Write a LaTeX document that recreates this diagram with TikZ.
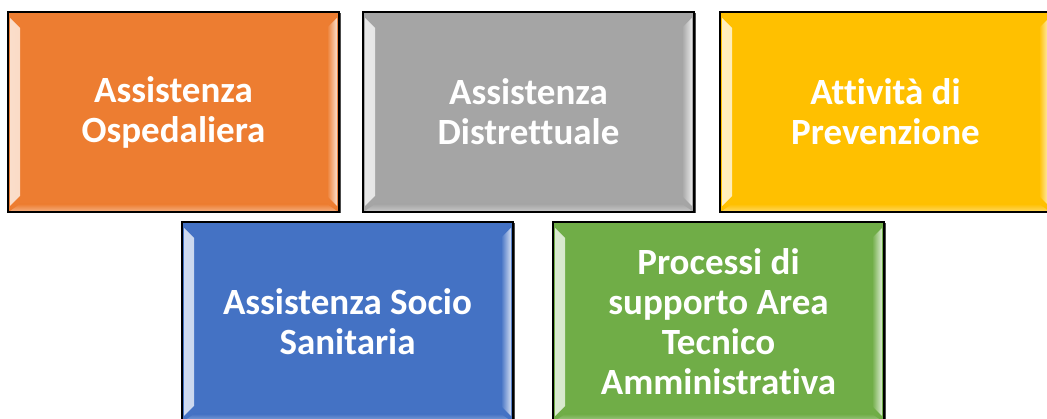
\documentclass[tikz,border=0pt]{standalone}
\usepackage{fontspec}
\setmainfont{Carlito}[Ligatures=NoCommon]
\usetikzlibrary{shadows}
\definecolor{aoOrange}{HTML}{ED7D31}
\definecolor{adGray}{HTML}{A5A5A5}
\definecolor{apYellow}{HTML}{FFC000}
\definecolor{assBlue}{HTML}{4472C4}
\definecolor{ptaGreen}{HTML}{70AD47}
\tikzset{
  tile/.style={draw=black, line width=1.4pt, fill=#1,
    minimum width=331pt, minimum height=200pt, inner sep=0pt,
    text=white, align=center, font=\bfseries\fontsize{37}{40}\selectfont,
    drop shadow={shadow xshift=1.5pt, shadow yshift=-1.5pt, opacity=.7, fill=black},
    path picture={
      \fill[left color=#1!25!white, right color=#1]
        ([shift={(2pt,-6pt)}]path picture bounding box.north west) --
        ([shift={(12pt,-16pt)}]path picture bounding box.north west) --
        ([shift={(12pt,16pt)}]path picture bounding box.south west) --
        ([shift={(2pt,6pt)}]path picture bounding box.south west) -- cycle;
      \fill[right color=#1!25!white, left color=#1]
        ([shift={(-2pt,-6pt)}]path picture bounding box.north east) --
        ([shift={(-12pt,-16pt)}]path picture bounding box.north east) --
        ([shift={(-12pt,16pt)}]path picture bounding box.south east) --
        ([shift={(-2pt,6pt)}]path picture bounding box.south east) -- cycle;
      % soft light edge along the bottom
      \fill[top color=#1, bottom color=#1!65!white]
        ([shift={(12pt,8pt)}]path picture bounding box.south west) --
        ([shift={(-12pt,8pt)}]path picture bounding box.south east) --
        ([shift={(-2pt,1pt)}]path picture bounding box.south east) --
        ([shift={(2pt,1pt)}]path picture bounding box.south west) -- cycle;
    }},
}
\begin{document}
\begin{tikzpicture}[x=1pt,y=1pt]
  \useasboundingbox (0,0) rectangle (1047,419);
  \clip (0,0) rectangle (1047,419);
  \node[tile=aoOrange] (AO) at (173.5,307) {Assistenza\\Ospedaliera};
  \node[tile=adGray] (AD) at (528.5,307) {Assistenza\\Distrettuale};
  \node[tile=apYellow] (AP) at (885.5,307) {Attività di\\Prevenzione};
  \node[tile=assBlue] (ASS) at (347.5,97) {Assistenza Socio\\Sanitaria};
  \node[tile=ptaGreen] (PTA) at (718.5,97) {Processi di\\supporto Area\\Tecnico\\Amministrativa};
\end{tikzpicture}
\end{document}
